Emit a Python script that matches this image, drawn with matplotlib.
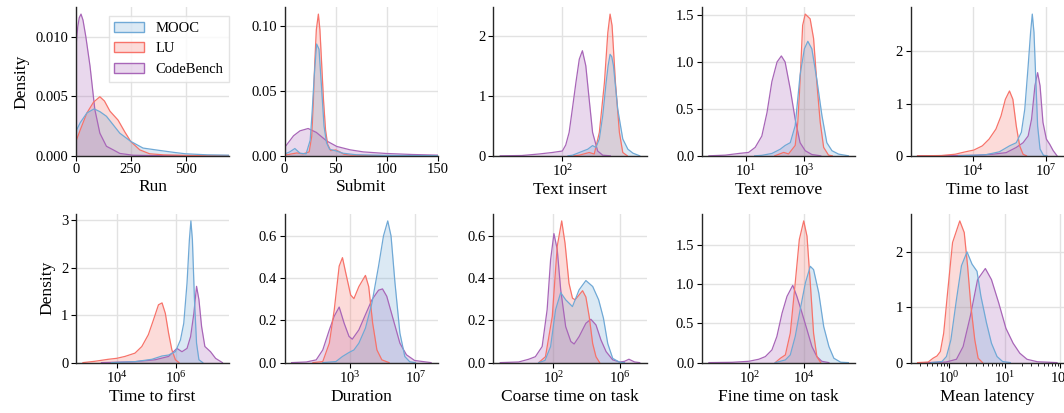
import numpy as np
import matplotlib
matplotlib.use("Agg")
import matplotlib.pyplot as plt
from matplotlib.patches import Patch
from matplotlib.ticker import NullLocator, FixedLocator

plt.rcParams['font.family'] = 'serif'
plt.rcParams['font.serif'] = ['Liberation Serif', 'DejaVu Serif']
plt.rcParams['mathtext.fontset'] = 'stix'

series_names = ["MOOC", "LU", "CodeBench"]
colors = ["#70a9d6", "#f7736a", "#a866b8"]

# density curves: (x, density)
# linear panels use raw x, log panels store log10(x)
run_mooc = ([0, 20, 50, 83, 110, 139, 170, 200, 250, 306, 382, 450, 500, 600, 700, 750],
            [0.00206, 0.0028, 0.0036, 0.00394, 0.0037, 0.00332, 0.0026, 0.0019, 0.00121, 0.00065,
             0.00045, 0.00028, 0.00017, 0.00008, 0.00005, 0.00004])
run_lu = ([0, 20, 50, 80, 109, 130, 155, 192, 223, 250, 291, 336, 400, 500, 750],
          [0.00121, 0.0022, 0.0036, 0.0045, 0.00496, 0.0046, 0.00375, 0.0030, 0.0020, 0.0012,
           0.0005, 0.00017, 0.00008, 0.00004, 0.00002])
run_cb = ([0, 8, 15, 23, 32, 45, 64, 86, 109, 139, 170, 200, 260, 350, 500, 750],
          [0.0092, 0.0108, 0.0116, 0.0119, 0.0114, 0.0100, 0.00755, 0.0039, 0.0019, 0.0008,
           0.0005, 0.0002, 0.00005, 0.00002, 0.0, 0.0])

submit_mooc = ([0, 5, 10, 15, 21, 25, 27, 29, 31.3, 33.6, 36, 38.5, 41, 44, 50, 57, 70, 100, 150],
               [0.0013, 0.003, 0.0056, 0.002, 0.0015, 0.012, 0.035, 0.062, 0.086, 0.082, 0.054,
                0.023, 0.010, 0.005, 0.0038, 0.002, 0.0008, 0.0003, 0.0001])
submit_lu = ([0, 5, 12, 18, 24, 26.5, 28, 29.5, 31, 33, 34.5, 36, 38, 40, 42, 45, 50, 54, 58, 65, 80, 150],
             [0.0005, 0.0012, 0.0022, 0.0015, 0.003, 0.015, 0.040, 0.072, 0.097, 0.109, 0.097, 0.074,
              0.043, 0.020, 0.009, 0.004, 0.0045, 0.003, 0.0012, 0.0005, 0.0002, 0.0])
submit_cb = ([0, 8.7, 15, 23, 31, 41, 51, 64, 77, 99, 125, 150],
             [0.0064, 0.0154, 0.0192, 0.021, 0.018, 0.0115, 0.0072, 0.0046, 0.003, 0.0018, 0.001, 0.0005])

insert_mooc = ([2.2, 2.36, 2.6, 2.9, 3.07, 3.19, 3.31, 3.43, 3.55, 3.62, 3.69, 3.75, 3.81, 3.96, 4.14, 4.32, 4.5, 4.74],
               [0, 0.01, 0.055, 0.11, 0.17, 0.14, 0.28, 0.67, 1.22, 1.5, 1.69, 1.65, 1.5, 0.78, 0.28, 0.11, 0.044, 0])
insert_lu = ([2.4, 2.6, 2.83, 2.95, 3.13, 3.31, 3.49, 3.61, 3.69, 3.76, 3.88, 4.02, 4.14, 4.3],
             [0, 0.01, 0.04, 0.055, 0.03, 0.39, 1.22, 2.05, 2.36, 2.17, 1.22, 0.39, 0.055, 0])
insert_cb = ([-0.2, 0.57, 1.17, 1.64, 2.0, 2.12, 2.24, 2.36, 2.48, 2.6, 2.71, 2.83, 2.95, 3.07, 3.25, 3.43, 3.7],
             [0, 0.005, 0.03, 0.055, 0.08, 0.18, 0.39, 0.8, 1.22, 1.61, 1.75, 1.5, 0.94, 0.39, 0.08, 0.01, 0])

remove_mooc = ([1.3, 1.55, 1.9, 2.19, 2.36, 2.54, 2.71, 2.88, 3.03, 3.15, 3.29, 3.46, 3.64, 3.81, 3.99, 4.22, 4.56],
               [0, 0.005, 0.025, 0.07, 0.11, 0.14, 0.32, 0.86, 1.14, 1.22, 1.14, 0.82, 0.43, 0.14, 0.054, 0.018, 0])
remove_lu = ([2.0, 2.31, 2.48, 2.71, 2.8, 2.88, 2.97, 3.06, 3.23, 3.35, 3.46, 3.58, 3.7, 3.87, 4.0],
             [0, 0.036, 0.02, 0.11, 0.35, 0.79, 1.39, 1.51, 1.46, 1.25, 0.79, 0.36, 0.09, 0.007, 0])
remove_cb = ([-0.29, 0.28, 0.75, 1.09, 1.32, 1.55, 1.73, 1.9, 2.08, 2.23, 2.36, 2.54, 2.71, 2.88, 3.06, 3.29, 3.6],
             [0, 0.007, 0.025, 0.036, 0.09, 0.21, 0.46, 0.79, 1.0, 1.064, 1.0, 0.71, 0.39, 0.14, 0.054, 0.014, 0])

last_mooc = ([3.4, 4.52, 5.08, 5.5, 5.78, 5.99, 6.13, 6.27, 6.37, 6.44, 6.51, 6.59, 6.66, 6.76, 6.9, 7.05],
             [0, 0.02, 0.076, 0.19, 0.25, 0.45, 0.89, 1.72, 2.36, 2.71, 2.36, 1.4, 0.57, 0.13, 0.01, 0])
last_lu = ([1.71, 2.7, 3.26, 3.68, 4.03, 4.38, 4.66, 4.94, 5.15, 5.33, 5.5, 5.64, 5.78, 5.92, 6.06, 6.2],
           [0, 0.005, 0.03, 0.076, 0.11, 0.19, 0.32, 0.51, 0.76, 1.08, 1.24, 1.08, 0.57, 0.19, 0.03, 0])
last_cb = ([1.71, 4.1, 4.8, 5.36, 5.78, 6.06, 6.27, 6.41, 6.55, 6.66, 6.76, 6.88, 7.02, 7.16, 7.3, 7.46],
           [0, 0.01, 0.03, 0.06, 0.16, 0.25, 0.38, 0.7, 1.34, 1.59, 1.34, 0.64, 0.32, 0.22, 0.1, 0])

first_mooc = ([3.83, 4.62, 5.19, 5.53, 5.75, 5.98, 6.15, 6.26, 6.37, 6.45, 6.5, 6.55, 6.62, 6.69, 6.77, 6.9],
              [0, 0.02, 0.07, 0.14, 0.16, 0.23, 0.48, 0.83, 1.68, 2.6, 2.99, 2.6, 1.33, 0.41, 0.06, 0])
first_lu = ([2.87, 3.27, 3.72, 4.0, 4.28, 4.62, 4.85, 5.07, 5.24, 5.41, 5.53, 5.64, 5.75, 5.86, 5.98, 6.1],
            [0, 0.028, 0.07, 0.09, 0.13, 0.2, 0.34, 0.59, 0.9, 1.22, 1.26, 1.04, 0.62, 0.27, 0.06, 0])
first_cb = ([3.49, 4.62, 5.3, 5.75, 6.03, 6.2, 6.37, 6.49, 6.6, 6.69, 6.77, 6.86, 6.97, 7.16, 7.33, 7.56],
            [0, 0.02, 0.06, 0.13, 0.3, 0.23, 0.3, 0.55, 1.04, 1.61, 1.33, 0.76, 0.34, 0.23, 0.09, 0])

duration_mooc = ([1.36, 2.16, 2.56, 2.96, 3.26, 3.56, 3.96, 4.36, 4.76, 5.06, 5.32, 5.52, 5.76, 6.06, 6.36, 6.66, 7.0],
                 [0, 0.005, 0.029, 0.048, 0.06, 0.092, 0.163, 0.283, 0.457, 0.6, 0.671, 0.6, 0.378, 0.14,
                  0.029, 0.004, 0])
duration_lu = ([0.76, 1.36, 1.76, 2.06, 2.36, 2.56, 2.76, 3.06, 3.26, 3.56, 3.96, 4.16, 4.4, 4.66, 4.96, 5.4],
               [0, 0.005, 0.092, 0.25, 0.457, 0.497, 0.425, 0.32, 0.303, 0.36, 0.413, 0.36, 0.187, 0.06, 0.013, 0])
duration_cb = ([-0.54, 0.36, 0.96, 1.36, 1.76, 2.06, 2.36, 2.66, 2.96, 3.16, 3.56, 3.96, 4.36, 4.76, 5.0,
                5.26, 5.66, 6.06, 6.46, 6.96, 7.96],
               [0, 0.003, 0.013, 0.06, 0.155, 0.22, 0.263, 0.187, 0.124, 0.111, 0.155, 0.227, 0.298, 0.343,
                0.349, 0.314, 0.203, 0.092, 0.037, 0.01, 0])

coarse_mooc = ([1.12, 1.5, 1.84, 2.14, 2.45, 2.75, 3.16, 3.56, 3.97, 4.38, 4.74, 5.03, 5.29, 5.59, 6.0, 6.3],
               [0, 0.01, 0.076, 0.25, 0.331, 0.297, 0.265, 0.344, 0.388, 0.36, 0.297, 0.21, 0.09, 0.02, 0.002, 0])
coarse_lu = ([1.12, 1.53, 1.94, 2.24, 2.51, 2.71, 2.95, 3.16, 3.32, 3.56, 3.77, 3.97, 4.17, 4.38, 4.58, 4.8],
             [0, 0.028, 0.218, 0.55, 0.67, 0.565, 0.375, 0.305, 0.297, 0.32, 0.34, 0.31, 0.218, 0.09, 0.028, 0])
coarse_cb = ([-1.2, -0.09, 0.52, 0.92, 1.33, 1.63, 1.84, 2.04, 2.24, 2.45, 2.75, 3.06, 3.26, 3.56, 3.97,
              4.27, 4.58, 4.88, 5.19, 5.59, 6.0, 6.3, 6.57, 6.91, 7.22],
             [0, 0.003, 0.016, 0.028, 0.076, 0.25, 0.486, 0.61, 0.535, 0.344, 0.17, 0.1, 0.088, 0.123,
              0.186, 0.205, 0.178, 0.107, 0.052, 0.013, 0.003, 0.006, 0.016, 0.003, 0])

fine_mooc = ([2.94, 3.31, 3.49, 3.67, 3.85, 4.04, 4.22, 4.34, 4.53, 4.71, 4.9, 5.08, 5.33, 5.61],
             [0, 0.034, 0.098, 0.333, 0.675, 1.017, 1.23, 1.188, 0.889, 0.46, 0.205, 0.056, 0.005, 0])
fine_lu = ([2.94, 3.13, 3.31, 3.49, 3.67, 3.82, 3.98, 4.1, 4.22, 4.34, 4.46, 4.6],
           [0, 0.056, 0.098, 0.376, 1.017, 1.573, 1.81, 1.615, 1.017, 0.376, 0.077, 0])
fine_cb = ([0.52, 1.37, 1.98, 2.34, 2.58, 2.82, 3.0, 3.19, 3.37, 3.58, 3.73, 3.92, 4.1, 4.28, 4.46, 4.64, 4.9],
           [0, 0.004, 0.017, 0.043, 0.077, 0.162, 0.333, 0.632, 0.846, 0.987, 0.846, 0.632, 0.42, 0.205,
            0.077, 0.017, 0])

latency_mooc = ([-0.32, -0.13, -0.05, 0.03, 0.13, 0.22, 0.32, 0.41, 0.5, 0.57, 0.67, 0.76, 0.86, 0.96, 1.1],
                [0, 0.02, 0.11, 0.41, 1.14, 1.75, 2.0, 1.78, 1.65, 1.2, 0.72, 0.35, 0.11, 0.02, 0])
latency_lu = ([-0.57, -0.38, -0.29, -0.22, -0.16, -0.1, -0.03, 0.06, 0.19, 0.27, 0.33, 0.39, 0.46, 0.52, 0.6],
              [0, 0.01, 0.08, 0.12, 0.2, 0.53, 1.26, 2.17, 2.56, 2.35, 1.75, 1.02, 0.41, 0.08, 0])
latency_cb = ([-0.45, -0.06, 0.13, 0.25, 0.38, 0.51, 0.65, 0.76, 0.89, 1.02, 1.15, 1.27, 1.4, 1.59, 1.72, 1.94],
              [0, 0.01, 0.06, 0.29, 0.84, 1.5, 1.7, 1.5, 1.08, 0.62, 0.35, 0.17, 0.06, 0.015, 0.01, 0])

# title, curves, log x?, x ticks, y ticks
panels = [
    ("Run", [run_mooc, run_lu, run_cb], False, [0, 250, 500], [0, 0.005, 0.010]),
    ("Submit", [submit_mooc, submit_lu, submit_cb], False, [0, 50, 100, 150], [0, 0.05, 0.10]),
    ("Text insert", [insert_mooc, insert_lu, insert_cb], True, [1e2, 1e5], [0, 1, 2]),
    ("Text remove", [remove_mooc, remove_lu, remove_cb], True, [1e1, 1e3], [0, 0.5, 1.0, 1.5]),
    ("Time to last", [last_mooc, last_lu, last_cb], True, [1e4, 1e7], [0, 1, 2]),
    ("Time to first", [first_mooc, first_lu, first_cb], True, [1e4, 1e6], [0, 1, 2, 3]),
    ("Duration", [duration_mooc, duration_lu, duration_cb], True, [1e3, 1e7], [0, 0.2, 0.4, 0.6]),
    ("Coarse time on task", [coarse_mooc, coarse_lu, coarse_cb], True, [1e2, 1e6], [0, 0.2, 0.4, 0.6]),
    ("Fine time on task", [fine_mooc, fine_lu, fine_cb], True, [1e2, 1e4], [0, 0.5, 1.0, 1.5]),
    ("Mean latency", [latency_mooc, latency_lu, latency_cb], True, [1e0, 1e1, 1e2], [0, 1, 2]),
]

fig, axes = plt.subplots(2, 5, figsize=(10.64, 4.13), dpi=100)
plt.subplots_adjust(left=0.0714, right=1.0, bottom=0.122, top=0.983, wspace=0.36, hspace=0.39)

for i, (ax, (title, curves, logx, xt, yt)) in enumerate(zip(axes.flat, panels)):
    ax.set_axisbelow(True)
    ax.grid(True, color="#e2e2e2", lw=1.0)
    # seaborn draws hue levels in reverse order
    for k in [2, 1, 0]:
        x, y = curves[k]
        x = np.array(x, dtype=float)
        if logx:
            x = np.power(10.0, x)
        ax.fill_between(x, y, 0, color=colors[k], alpha=0.25, lw=0)
        ax.plot(x, y, color=colors[k], lw=0.9)
    if logx:
        ax.set_xscale("log")
        ax.xaxis.set_major_locator(FixedLocator(xt))
        if title != "Mean latency":
            ax.xaxis.set_minor_locator(NullLocator())
    else:
        ax.set_xticks(xt)
        ax.set_xlim(xt[0], 700 if title == "Run" else xt[-1])
    ax.set_yticks(yt)
    ax.set_ylim(bottom=0)
    ax.set_xlabel(title, fontsize=12.5, labelpad=2)
    if i % 5 == 0:
        ax.set_ylabel("Density", fontsize=12.5)
    for s in ["top", "right"]:
        ax.spines[s].set_visible(False)
    for s in ["left", "bottom"]:
        ax.spines[s].set_color("#262626")
        ax.spines[s].set_linewidth(1.0)
    ax.tick_params(labelsize=10.5, length=3.5, width=0.8, pad=2)
    ax.tick_params(which="minor", length=2, width=0.6)

handles = [Patch(facecolor=(c, 0.25), edgecolor=c, lw=1.0) for c in colors]
axes[0, 0].legend(handles, series_names, loc="upper right", bbox_to_anchor=(1.045, 0.99),
                  fontsize=10.5, frameon=True, edgecolor="#dddddd", framealpha=0.8, fancybox=False)

fig.savefig("out.png", dpi=100)
